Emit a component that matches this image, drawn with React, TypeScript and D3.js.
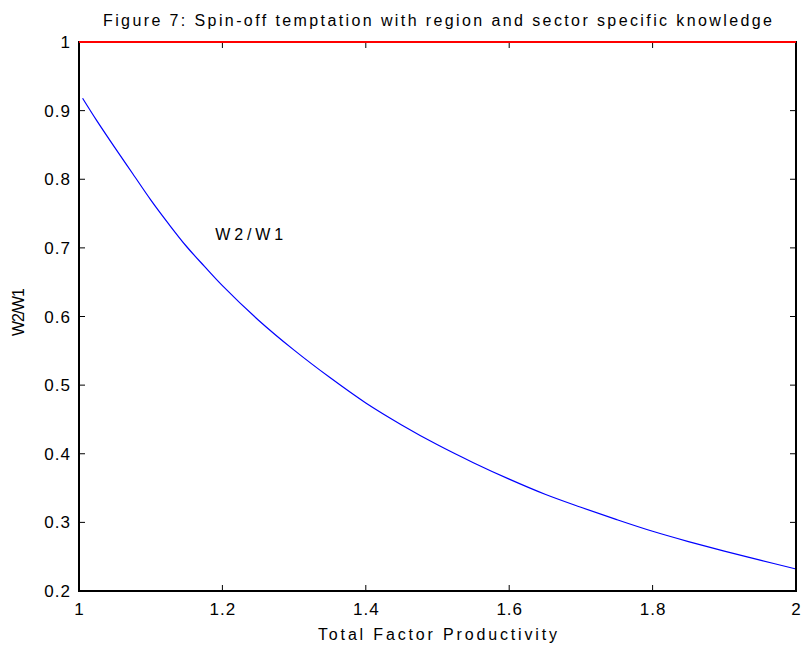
import React from "react";
import * as d3 from "d3";

// Total factor productivity (x) and the wage ratio W2/W1 (y)
const tfp = [1.005, 1.025, 1.05, 1.075, 1.1, 1.125, 1.15, 1.175, 1.2, 1.25, 1.3, 1.35, 1.4, 1.45, 1.5, 1.55, 1.6, 1.65, 1.7, 1.75, 1.8, 1.85, 1.9, 1.95, 2.0];
const ratio = [0.918, 0.885, 0.846, 0.808, 0.77, 0.735, 0.702, 0.673, 0.645, 0.595, 0.551, 0.511, 0.474, 0.442, 0.413, 0.387, 0.363, 0.341, 0.322, 0.304, 0.287, 0.272, 0.258, 0.245, 0.232];
// Reference level W2/W1 = 1
const refX = [1, 2];
const refY = [1, 1];

const xTicks = [1, 1.2, 1.4, 1.6, 1.8, 2];
const yTicks = [0.2, 0.3, 0.4, 0.5, 0.6, 0.7, 0.8, 0.9, 1];

const title = "Figure 7: Spin-off temptation with region and sector specific knowledge";
const xLabel = "Total Factor Productivity";
const yLabel = "W2/W1";
const curveLabel = "W2/W1";
const curveLabelPos = [1.19, 0.72];

const W = 809;
const H = 651;
const left = 79;
const right = 796;
const top = 42;
const bottom = 591;
const font = "Arimo, 'Liberation Sans', Arial, sans-serif";

export default function App() {
  const x = d3.scaleLinear().domain([1, 2]).range([left, right]);
  const y = d3.scaleLinear().domain([0.2, 1]).range([bottom, top]);

  const line = d3
    .line<number>()
    .x((_, i) => x(tfp[i]))
    .y((d) => y(d))
    .curve(d3.curveCatmullRom);
  const refLine = d3
    .line<number>()
    .x((_, i) => x(refX[i]))
    .y((d) => y(d));

  const tick = 6;

  return (
    <svg
      width={W}
      height={H}
      style={{ position: "absolute", left: 0, top: 0, background: "#fff" }}
      fontFamily={font}
    >
      <rect x={0} y={0} width={W} height={H} fill="#fff" />
      <text
        x={(left + right) / 2}
        y={26}
        textAnchor="middle"
        fontSize={16}
        textLength={669}
        lengthAdjust="spacing"
        fill="#000"
      >
        {title}
      </text>

      {/* ticks on all four sides, pointing inward */}
      {xTicks.map((t) => (
        <g key={"x" + t}>
          <line x1={x(t)} x2={x(t)} y1={bottom} y2={bottom - tick} stroke="#000" strokeWidth={1} />
          <line x1={x(t)} x2={x(t)} y1={top} y2={top + tick} stroke="#000" strokeWidth={1} />
          <text
            x={x(t)}
            y={615}
            textAnchor="middle"
            fontSize={17}
            letterSpacing={1}
            dx={0.5}
            fill="#000"
          >
            {String(t)}
          </text>
        </g>
      ))}
      {yTicks.map((t) => (
        <g key={"y" + t}>
          <line x1={left} x2={left + tick} y1={y(t)} y2={y(t)} stroke="#000" strokeWidth={1} />
          <line x1={right} x2={right - tick} y1={y(t)} y2={y(t)} stroke="#000" strokeWidth={1} />
          <text
            x={70}
            y={y(t) + 6}
            textAnchor="end"
            fontSize={17}
            letterSpacing={1}
            dx={1}
            fill="#000"
          >
            {String(t)}
          </text>
        </g>
      ))}

      <path d={line(ratio) ?? ""} fill="none" stroke="#0000ff" strokeWidth={1.2} />

      <rect
        x={left}
        y={top}
        width={right - left}
        height={bottom - top}
        fill="none"
        stroke="#000"
        strokeWidth={2}
      />
      {/* the reference level lies on the top edge and is drawn over the frame */}
      <path d={refLine(refY) ?? ""} fill="none" stroke="#ff0000" strokeWidth={2} />

      <text
        x={x(curveLabelPos[0])}
        y={y(curveLabelPos[1]) + 6}
        fontSize={16}
        textLength={68}
        lengthAdjust="spacing"
        fill="#000"
      >
        {curveLabel}
      </text>

      <text
        x={(left + right) / 2}
        y={640}
        textAnchor="middle"
        fontSize={16}
        textLength={239}
        lengthAdjust="spacing"
        fill="#000"
      >
        {xLabel}
      </text>
      <text
        transform={`translate(24, 312) rotate(-90)`}
        textAnchor="middle"
        fontSize={16}
        textLength={48}
        lengthAdjust="spacing"
        fill="#000"
      >
        {yLabel}
      </text>
    </svg>
  );
}
